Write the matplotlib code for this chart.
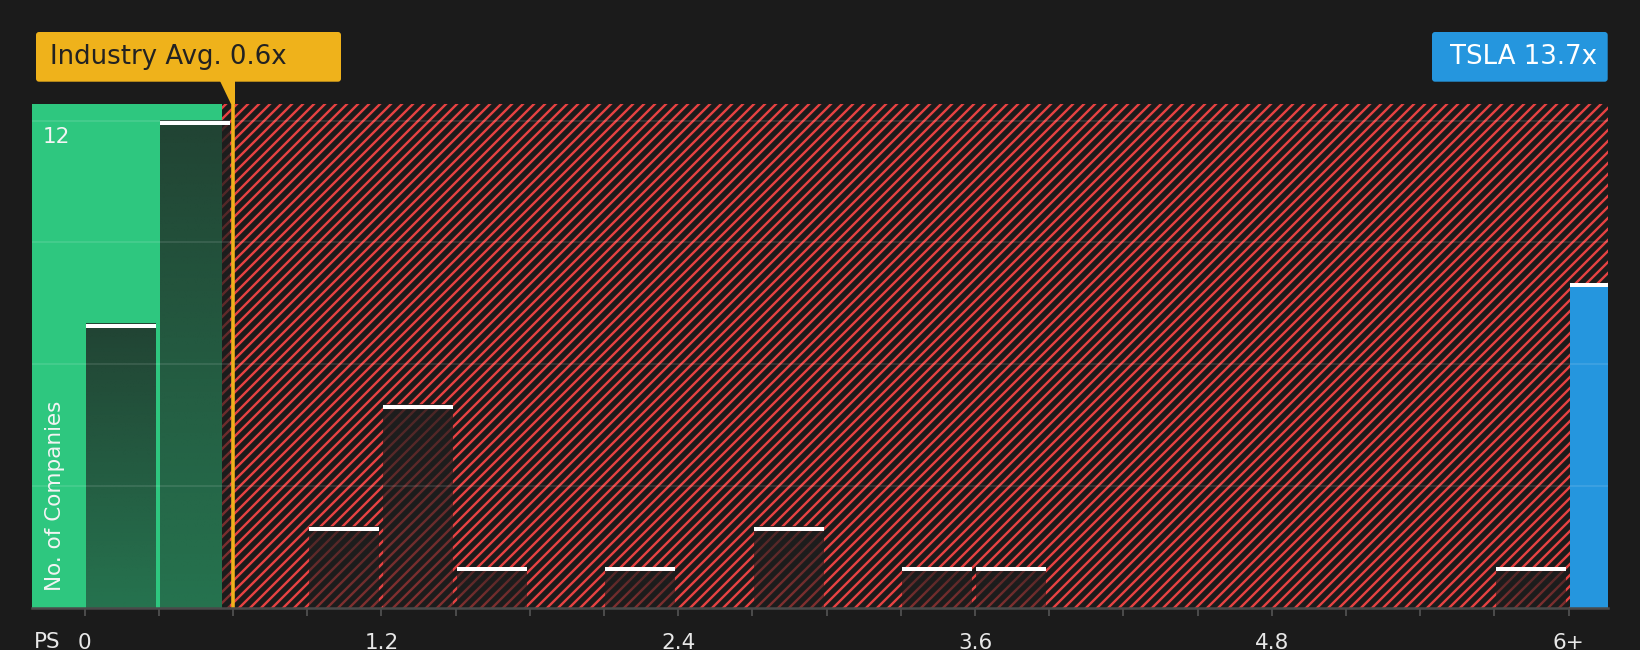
import matplotlib
matplotlib.use("Agg")
import matplotlib.pyplot as plt
import numpy as np
from matplotlib.patches import FancyBboxPatch, Polygon
from matplotlib.transforms import IdentityTransform, offset_copy

# ---------------- data ----------------
bin_starts = [0.0, 0.3, 0.6, 0.9, 1.2, 1.5, 1.8, 2.1, 2.4, 2.7,
              3.0, 3.3, 3.6, 3.9, 4.2, 4.5, 4.8, 5.1, 5.4, 5.7]
counts = [7, 12, 0, 2, 5, 1, 0, 1, 0, 2,
          0, 1, 1, 0, 0, 0, 0, 0, 0, 1]
bin_width = 0.3
industry_avg = 0.6
green_region_end = 0.555
tsla_label = "TSLA 13.7x"
tsla_bin_start = 6.0
tsla_count = 8
industry_label = "Industry Avg. 0.6x"
x_tick_values = [0.0, 1.2, 2.4, 3.6, 4.8, 6.0]
x_tick_labels = ["0", "1.2", "2.4", "3.6", "4.8", "6+"]
y_grid_values = [3, 6, 9, 12]

# ---------------- style ----------------
W, H = 1640, 650
DPI = 66
P = 72 / DPI  # points per pixel
BG = "#1b1b1b"
GREEN = "#2ec77f"
RED = "#e64242"
BLUE = "#2596de"
YELLOW = "#efb21b"
AXIS_GRAY = "#4a4a4a"

plt.rcParams["font.family"] = ["DejaVu Sans"]
plt.rcParams["hatch.linewidth"] = 2.4 * P

fig = plt.figure(figsize=(W / DPI, H / DPI), dpi=DPI, facecolor=BG)
ax_left, ax_right, ax_top, ax_bottom = 32, 1607.7, 104, 608
ax = fig.add_axes([ax_left / W, (H - ax_bottom) / H,
                   (ax_right - ax_left) / W, (ax_bottom - ax_top) / H])
ax.set_facecolor(BG)
XMIN, XMAX, YMAX = -0.213, 6.158, 12.41

# background regions
ax.axvspan(XMIN, green_region_end, facecolor=GREEN, lw=0, zorder=1)
ax.axvspan(green_region_end, XMAX, facecolor=BG, edgecolor=RED,
           hatch="//", lw=0, zorder=1)

# bars with vertical gradient overlay
bar_w = 0.283
bar_off = 0.005
grad = np.zeros((64, 1, 4))
grad[..., 0:3] = np.array([30, 30, 30]) / 255.0
grad[:, 0, 3] = np.linspace(0.50, 0.78, 64)

top_trans = offset_copy(ax.transData, fig=fig, y=-2, units="dots")
for x0, c in zip(bin_starts, counts):
    if c <= 0:
        continue
    bx = x0 + bar_off
    ax.imshow(grad, extent=(bx, bx + bar_w, 0, c), origin="lower",
              aspect="auto", interpolation="bilinear", zorder=3)
    ax.plot([bx, bx + bar_w], [c, c], color="white", lw=4 * P,
            solid_capstyle="butt", transform=top_trans, zorder=6)

# TSLA bar
tx = tsla_bin_start + bar_off
ax.bar(tx, tsla_count, width=bar_w, align="edge", color=BLUE, lw=0, zorder=3)
ax.plot([tx, tx + bar_w], [tsla_count, tsla_count], color="white", lw=4 * P,
        solid_capstyle="butt", transform=top_trans, zorder=6)

# grid lines
for gy in y_grid_values:
    ax.axhline(gy, color="white", alpha=0.10, lw=2 * P, zorder=4)

# industry average line
ax.axvline(industry_avg, color=YELLOW, lw=3.6 * P, zorder=7)

ax.set_xlim(XMIN, XMAX)
ax.set_ylim(0, YMAX)

# axes cosmetics
for s in ["top", "right", "left"]:
    ax.spines[s].set_visible(False)
ax.spines["bottom"].set_color(AXIS_GRAY)
ax.spines["bottom"].set_linewidth(2.5 * P)
ax.spines["bottom"].set_zorder(8)
minor_ticks = np.round(np.arange(0, 6.0001, bin_width), 2)
labels = []
for t in minor_ticks:
    lab = ""
    for v, l in zip(x_tick_values, x_tick_labels):
        if abs(v - t) < 1e-6:
            lab = l
    labels.append(lab)
ax.set_xticks(minor_ticks)
ax.set_xticklabels(labels)
ax.tick_params(axis="x", length=8 * P, width=2 * P, color=AXIS_GRAY,
               labelcolor="#e8e8e8", labelsize=21.5 * P, pad=17 * P)
ax.set_yticks([])

# text labels
fig.text(47.5 / W, 1 - 642 / H, "PS", color="#e8e8e8", fontsize=21.5 * P,
         ha="center", va="center")
fig.text(56 / W, 1 - 137 / H, "12", color="#f4f4f4", fontsize=21.5 * P,
         ha="center", va="center")
fig.text(54.7 / W, 1 - 591 / H, "No. of Companies", color="#f4f4f4",
         fontsize=21.5 * P, rotation=90, ha="center", va="bottom")

# industry avg callout
ident = IdentityTransform()
xp = ax.transData.transform((industry_avg, 0))[0]
box1 = FancyBboxPatch((36, H - 81.7), 341 - 36, 81.7 - 32,
                      boxstyle="round,pad=0,rounding_size=3",
                      facecolor=YELLOW, edgecolor="none", transform=ident)
fig.add_artist(box1)
tri = Polygon([(xp - 13, H - 81), (xp + 1.8, H - 81),
               (xp + 1.8, H - 104), (xp - 1.8, H - 104)],
              closed=True, facecolor=YELLOW, edgecolor="none", transform=ident)
fig.add_artist(tri)
fig.text(50 / W, 1 - 56.5 / H, industry_label, color="#222222",
         fontsize=26 * P, ha="left", va="center")

# TSLA callout
box2 = FancyBboxPatch((1432, H - 81.7), ax_right - 1432, 81.7 - 32,
                      boxstyle="round,pad=0,rounding_size=3",
                      facecolor=BLUE, edgecolor="none", transform=ident)
fig.add_artist(box2)
fig.text(1450 / W, 1 - 56.5 / H, tsla_label, color="white",
         fontsize=26 * P, ha="left", va="center")

fig.savefig("out.png", dpi=DPI, facecolor=BG)
